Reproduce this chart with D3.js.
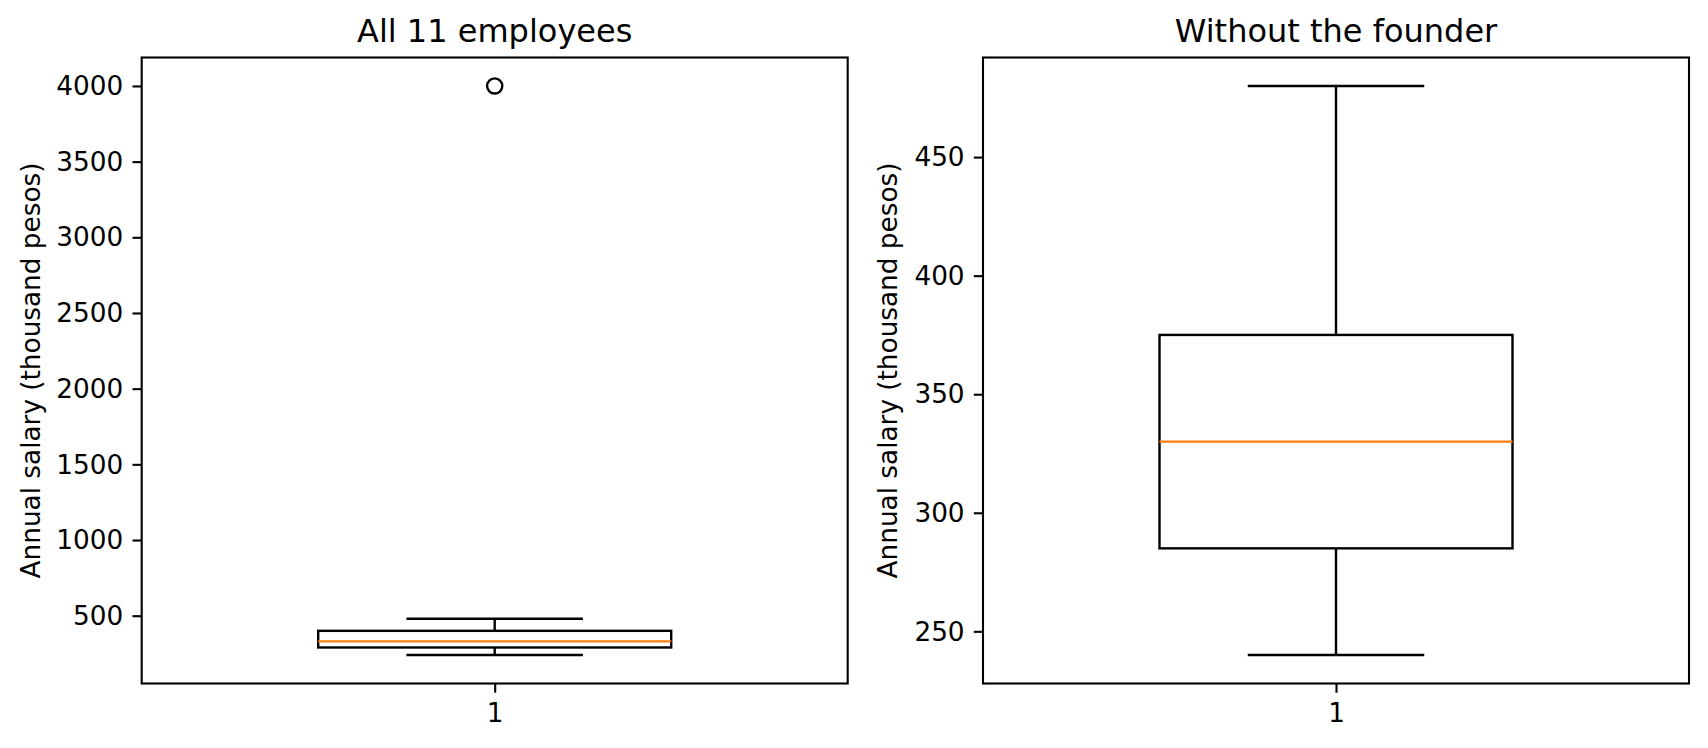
<!DOCTYPE html>
<html>
<head>
<meta charset="utf-8">
<script src="https://cdn.jsdelivr.net/npm/d3@7"></script>
<style>
  body { margin: 0; background: #fff; }
  svg { display: block; font-family: "DejaVu Sans", sans-serif; }
</style>
</head>
<body>
<svg id="chart" width="1708" height="748"></svg>
<script>
"use strict";

// box stats (thousand pesos)
let titles = ["All 11 employees", "Without the founder"];
let categories = ["1"];
let whiskerLow = [240, 240];
let q1 = [290, 285];
let median = [330, 330];
let q3 = [400, 375];
let whiskerHigh = [480, 480];
let outliers = [[4000], []];
let yTicks = [
  [500, 1000, 1500, 2000, 2500, 3000, 3500, 4000],
  [250, 300, 350, 400, 450]
];
let yLabel = "Annual salary (thousand pesos)";

// axes boxes in pixels
let panels = [
  { left: 141.7, top: 57.5, width: 706, height: 626, labelX: 31 },
  { left: 983, top: 57.5, width: 706, height: 626, labelX: 888 }
];

let fontTick = 26.3;
let fontTitle = 32;
let tickLen = 9.2;
let tickPad = 9.2;

let svg = d3.select("#chart");

panels.forEach(function (p, i) {
  let lo = d3.min([whiskerLow[i]].concat(outliers[i]));
  let hi = d3.max([whiskerHigh[i]].concat(outliers[i]));
  let pad = (hi - lo) * 0.05;

  let y = d3.scaleLinear().domain([lo - pad, hi + pad]).range([p.height, 0]);
  let x = d3.scaleLinear().domain([0.5, 1.5]).range([0, p.width]);

  let g = svg.append("g").attr("transform", `translate(${p.left},${p.top})`);

  // y axis
  let yAxis = g.append("g")
    .call(d3.axisLeft(y).tickValues(yTicks[i]).tickSize(tickLen).tickPadding(tickPad).tickFormat(d3.format("d")));
  yAxis.select(".domain").remove();
  yAxis.selectAll("line").attr("stroke", "#000").attr("stroke-width", 2.1);
  yAxis.selectAll("text").attr("font-size", fontTick).attr("fill", "#000")
    .attr("font-family", "DejaVu Sans").attr("dy", "0.33em");

  // x axis
  let xAxis = g.append("g").attr("transform", `translate(0,${p.height})`)
    .call(d3.axisBottom(x).tickValues([1]).tickSize(tickLen).tickPadding(tickPad).tickFormat(function (d, k) { return categories[k]; }));
  xAxis.select(".domain").remove();
  xAxis.selectAll("line").attr("stroke", "#000").attr("stroke-width", 2.1);
  xAxis.selectAll("text").attr("font-size", fontTick).attr("fill", "#000")
    .attr("font-family", "DejaVu Sans").attr("dy", "0.76em");

  let cx = x(1);
  let boxL = x(0.75), boxR = x(1.25);
  let capL = x(0.875), capR = x(1.125);
  let stroke = 2.4;

  // whiskers
  g.append("line").attr("x1", cx).attr("x2", cx).attr("y1", y(q1[i])).attr("y2", y(whiskerLow[i]))
    .attr("stroke", "#000").attr("stroke-width", stroke);
  g.append("line").attr("x1", cx).attr("x2", cx).attr("y1", y(q3[i])).attr("y2", y(whiskerHigh[i]))
    .attr("stroke", "#000").attr("stroke-width", stroke);
  // caps
  [whiskerLow[i], whiskerHigh[i]].forEach(function (v) {
    g.append("line").attr("x1", capL).attr("x2", capR).attr("y1", y(v)).attr("y2", y(v))
      .attr("stroke", "#000").attr("stroke-width", stroke);
  });
  // box
  g.append("rect").attr("x", boxL).attr("y", y(q3[i]))
    .attr("width", boxR - boxL).attr("height", y(q1[i]) - y(q3[i]))
    .attr("fill", "none").attr("stroke", "#000").attr("stroke-width", stroke);
  // median
  g.append("line").attr("x1", boxL).attr("x2", boxR).attr("y1", y(median[i])).attr("y2", y(median[i]))
    .attr("stroke", "#ff7f0e").attr("stroke-width", stroke);
  // fliers
  g.selectAll("circle.flier").data(outliers[i]).enter().append("circle")
    .attr("class", "flier")
    .attr("cx", cx).attr("cy", function (d) { return y(d); })
    .attr("r", 7.6).attr("fill", "none").attr("stroke", "#000").attr("stroke-width", 2.4);

  // frame
  g.append("rect").attr("width", p.width).attr("height", p.height)
    .attr("fill", "none").attr("stroke", "#000").attr("stroke-width", 2.1);

  // title
  g.append("text").attr("x", p.width / 2).attr("y", -16)
    .attr("text-anchor", "middle").attr("font-size", fontTitle).attr("fill", "#000")
    .text(titles[i]);

  // y label
  svg.append("text")
    .attr("transform", `translate(${p.labelX},${p.top + p.height / 2}) rotate(-90)`)
    .attr("text-anchor", "middle").attr("dominant-baseline", "central")
    .attr("font-size", fontTick).attr("fill", "#000")
    .text(yLabel);
});
</script>
</body>
</html>
